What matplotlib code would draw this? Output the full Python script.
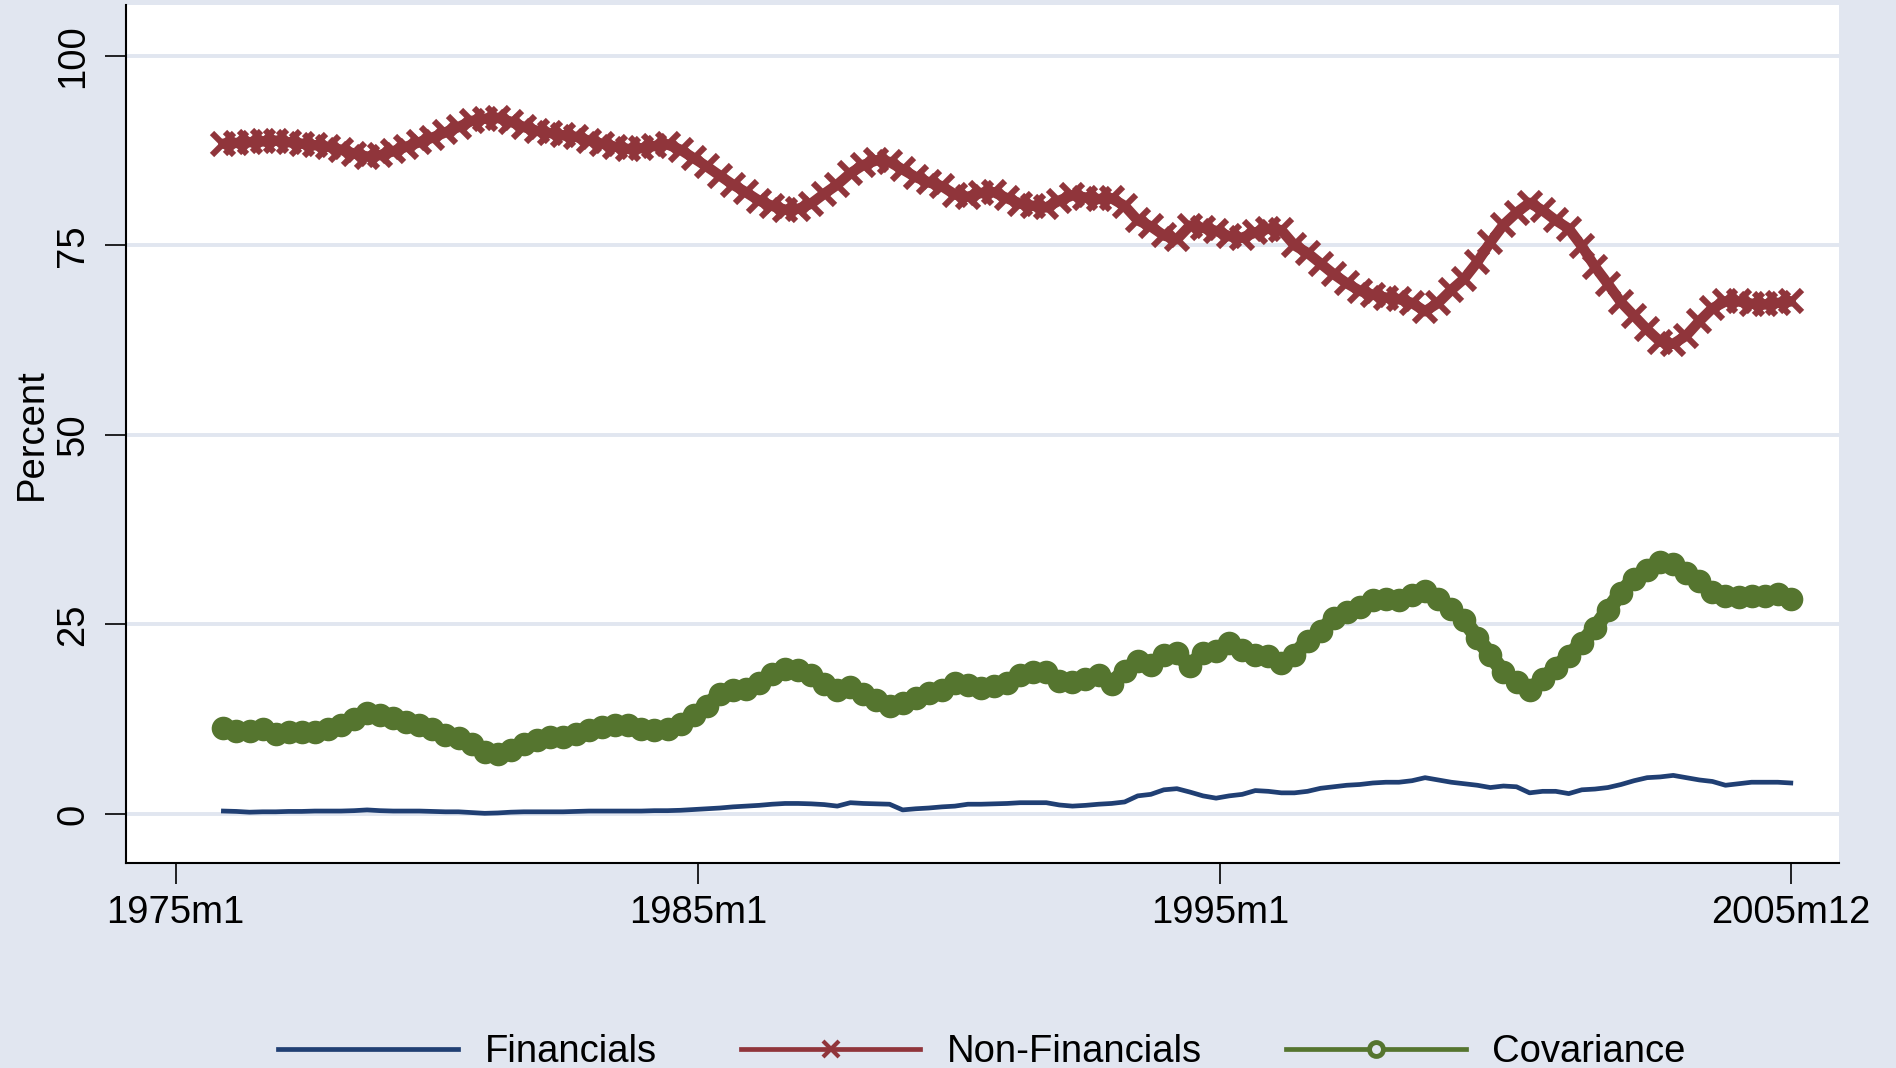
import pandas as pd
import matplotlib.pyplot as plt
from matplotlib.lines import Line2D

# quarterly readings, 1975m12 .. 2005m12
dates = pd.date_range("1975-12-01", "2005-12-01", freq="3MS")

financials = [0.4, 0.35, 0.25, 0.3, 0.3, 0.35, 0.35, 0.4, 0.4, 0.4,
              0.45, 0.55, 0.45, 0.4, 0.4, 0.4, 0.35, 0.3, 0.3, 0.2,
              0.1, 0.15, 0.25, 0.3, 0.3, 0.3, 0.3, 0.35, 0.4, 0.4,
              0.4, 0.4, 0.4, 0.45, 0.45, 0.5, 0.6, 0.7, 0.8, 0.95,
              1.05, 1.15, 1.3, 1.4, 1.4, 1.35, 1.25, 1.05, 1.5, 1.4,
              1.35, 1.3, 0.55, 0.7, 0.8, 0.95, 1.05, 1.3, 1.3, 1.35,
              1.4, 1.5, 1.5, 1.5, 1.2, 1.05, 1.15, 1.3, 1.4, 1.6,
              2.4, 2.6, 3.2, 3.35, 2.9, 2.4, 2.1, 2.4, 2.6, 3.1,
              3.0, 2.8, 2.8, 3.0, 3.4, 3.6, 3.8, 3.9, 4.1, 4.2,
              4.2, 4.4, 4.8, 4.5, 4.2, 4.0, 3.8, 3.5, 3.7, 3.6,
              2.8, 3.0, 3.0, 2.7, 3.2, 3.3, 3.5, 3.9, 4.4, 4.8,
              4.9, 5.1, 4.8, 4.5, 4.3, 3.8, 4.0, 4.2, 4.2, 4.2,
              4.1]

non_financials = [88.4, 88.5, 88.6, 88.7, 88.8, 88.6, 88.4, 88.2, 88.0, 87.6,
                  87.1, 86.7, 86.9, 87.4, 88.0, 88.6, 89.2, 89.9, 90.6, 91.4,
                  91.7, 91.8, 91.3, 90.6, 90.1, 89.8, 89.5, 89.3, 88.8, 88.4,
                  88.0, 87.7, 87.8, 88.1, 88.3, 87.6, 86.5, 85.4, 84.2, 83.0,
                  82.0, 80.9, 80.2, 79.7, 79.8, 80.5, 81.8, 83.0, 84.5, 85.6,
                  86.2, 86.0, 85.0, 84.0, 83.3, 82.8, 81.7, 81.4, 81.9, 82.0,
                  81.2, 80.5, 80.2, 80.0, 80.9, 81.6, 81.3, 81.1, 81.2, 80.2,
                  78.3, 77.5, 76.3, 75.8, 77.6, 77.3, 76.9, 76.2, 76.0, 76.7,
                  77.2, 77.0, 75.0, 74.0, 72.6, 71.2, 70.0, 69.0, 68.5, 68.1,
                  67.9, 67.4, 66.3, 67.4, 69.1, 70.6, 72.8, 75.4, 77.7, 79.3,
                  80.6, 79.6, 78.3, 77.2, 74.9, 72.2, 69.9, 67.5, 65.7, 63.9,
                  62.3, 62.0, 63.1, 65.0, 66.7, 67.6, 67.6, 67.3, 67.2, 67.4,
                  67.6]

covariance = [11.3, 11.0, 10.9, 11.2, 10.6, 10.8, 10.8, 10.8, 11.2, 11.8,
              12.6, 13.3, 13.0, 12.7, 12.2, 11.8, 11.2, 10.4, 10.0, 9.3,
              8.2, 7.9, 8.4, 9.2, 9.8, 10.2, 10.1, 10.5, 11.1, 11.5,
              11.8, 11.8, 11.2, 11.1, 11.2, 11.9, 13.1, 14.3, 15.8, 16.3,
              16.5, 17.3, 18.5, 19.1, 19.0, 18.3, 17.2, 16.4, 16.8, 15.8,
              15.1, 14.3, 14.6, 15.3, 15.9, 16.3, 17.3, 17.0, 16.6, 16.9,
              17.3, 18.3, 18.8, 18.7, 17.6, 17.4, 17.8, 18.3, 17.2, 18.9,
              20.2, 19.6, 21.0, 21.2, 19.5, 21.2, 21.5, 22.5, 21.6, 21.0,
              20.8, 19.9, 21.0, 22.8, 24.1, 25.8, 26.6, 27.3, 28.2, 28.3,
              28.2, 28.9, 29.4, 28.3, 27.0, 25.6, 23.2, 21.0, 18.7, 17.4,
              16.3, 17.8, 19.3, 20.8, 22.6, 24.5, 26.9, 29.2, 31.0, 32.2,
              33.2, 33.0, 31.8, 30.7, 29.3, 28.7, 28.6, 28.7, 28.8, 29.0,
              28.3]

tick_dates = pd.to_datetime(["1975-01-01", "1985-01-01", "1995-01-01", "2005-12-01"])
tick_labels = ["1975m1", "1985m1", "1995m1", "2005m12"]


def monthly(d):
    # Stata-style monthly index, months since 1975m1
    return (d.year - 1975) * 12 + d.month - 1


x = monthly(dates)

bg = "#E1E6F0"
navy = "#203F73"
maroon = "#90353B"
green = "#55752F"

plt.rcParams["font.family"] = ["Liberation Sans", "DejaVu Sans"]

fig = plt.figure(figsize=(18.96, 10.68), dpi=100, facecolor=bg)
ax = fig.add_axes([0.0664, 0.1916, 0.9036, 0.8038])
ax.set_facecolor("white")

ax.plot(x, financials, color=navy, lw=3.4, zorder=3)
ax.plot(x, non_financials, color=maroon, lw=7.5, marker="x", ms=15.5,
        mew=4.4, zorder=3, solid_capstyle="round")
ax.plot(x, covariance, color=green, lw=11, marker="o", ms=15, mew=2,
        mfc=green, zorder=3, solid_capstyle="round")

ax.set_xlim(-11.4, 382.1)
ax.set_ylim(-6.5, 106.7)
ax.set_yticks([0, 25, 50, 75, 100])
ax.set_yticklabels(["0", "25", "50", "75", "100"], rotation=90, va="center")
ax.set_xticks(monthly(tick_dates))
ax.set_xticklabels(tick_labels)
ax.grid(axis="y", color=bg, lw=2.8, zorder=1)
ax.set_axisbelow(True)

for s in ["top", "right"]:
    ax.spines[s].set_visible(False)
for s in ["left", "bottom"]:
    ax.spines[s].set_linewidth(1.5)
ax.tick_params(axis="both", length=15, width=1.2, labelsize=27.5)
ax.tick_params(axis="y", pad=10)
ax.tick_params(axis="x", pad=8)
ax.set_ylabel("Percent", fontsize=27.5, labelpad=4)

handles = [
    Line2D([], [], color=navy, lw=3.4),
    Line2D([], [], color=maroon, lw=3.4, marker="x", ms=11, mew=3),
    Line2D([], [], color=green, lw=3.4, marker="o", ms=10, mew=3.5, mfc=bg),
]
fig.legend(handles, ["Financials", "Non-Financials", "Covariance"],
           loc="center", bbox_to_anchor=(0.518, 0.015), ncol=3, frameon=False,
           fontsize=27.5, handlelength=4.7, handletextpad=0.7,
           columnspacing=2.2)

fig.savefig("out.png", dpi=100, facecolor=bg)
